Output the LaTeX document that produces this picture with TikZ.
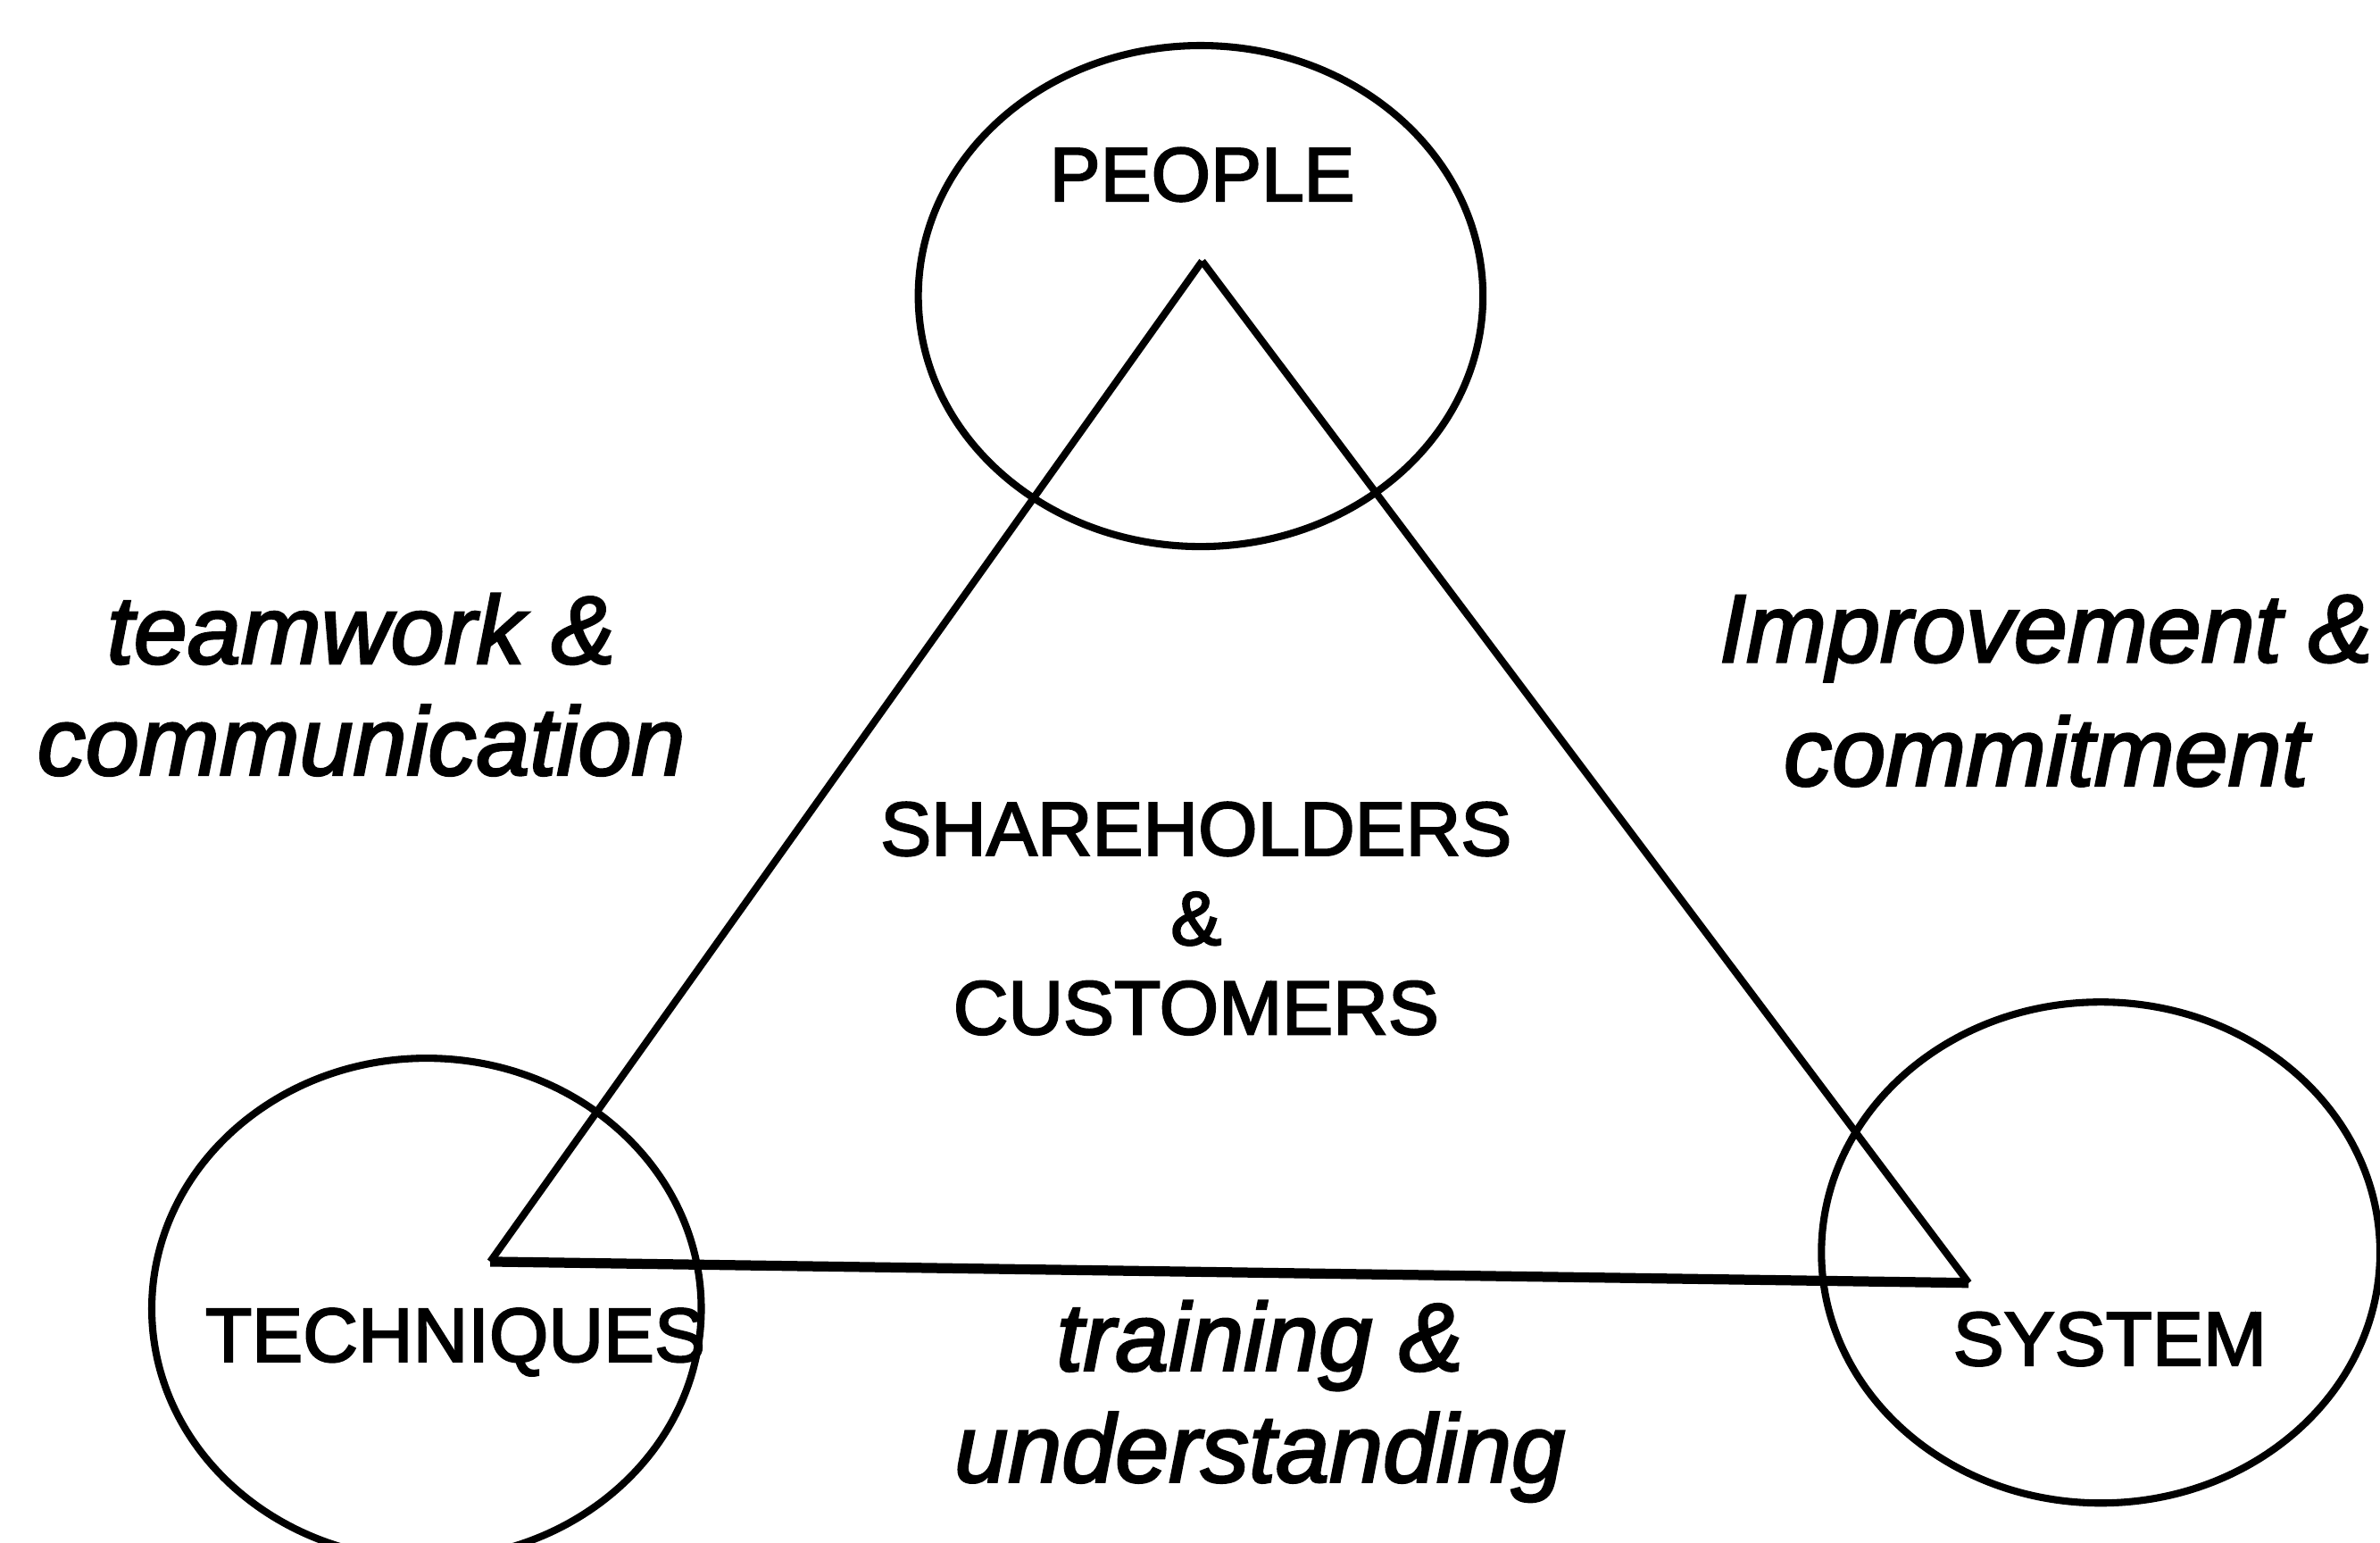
\documentclass[tikz,border=0pt]{standalone}
\usepackage{fontspec}
\setmainfont{Liberation Sans}
\newfontfamily\labelfont{Liberation Sans}[FakeBold=2.5]
\begin{document}
\begin{tikzpicture}[x=0.17003mm,y=-0.17003mm,
  ring/.style={line width=2.3pt},
  side/.style={line width=2.3pt,line join=miter},
  capslabel/.style={inner sep=0pt,font=\labelfont\fontsize{24.3}{28.5}\selectfont,align=center},
  itlabel/.style={inner sep=0pt,font=\labelfont\fontsize{30.7}{35.5}\selectfont\itshape,align=center}]
\useasboundingbox (0,0) rectangle (1568,1016);
% circles
\draw[ring] (791,195) ellipse [x radius=186, y radius=165];
\draw[ring] (281,862) ellipse [x radius=181, y radius=165];
\draw[ring] (1384,825) ellipse [x radius=184, y radius=165];
% triangle
\coordinate (apex) at (792,172);
\coordinate (bl) at (323,831);
\coordinate (br) at (1297,845);
\draw[side] (apex) -- (br);
\draw[side] (apex) -- (bl);
\draw[line width=3.2pt] (bl) -- (br);
% labels
\node[capslabel] (people) at (792,115) {PEOPLE};
\node[capslabel] (center) at (788,605) {SHAREHOLDERS\\\&\\CUSTOMERS};
\node[capslabel] (tech) at (300,884) {TECHNIQUES};
\node[capslabel] (sys) at (1390,882) {SYSTEM};
\node[itlabel] (team) at (238,451) {teamwork \&\\communication};
\node[itlabel,font=\labelfont\fontsize{30.7}{39.4}\selectfont\itshape] (impr) at (1348,455) {Improvement \&\\commitment};
\node[itlabel] (train) at (830,923) {training \&\\understanding};
\end{tikzpicture}
\end{document}
